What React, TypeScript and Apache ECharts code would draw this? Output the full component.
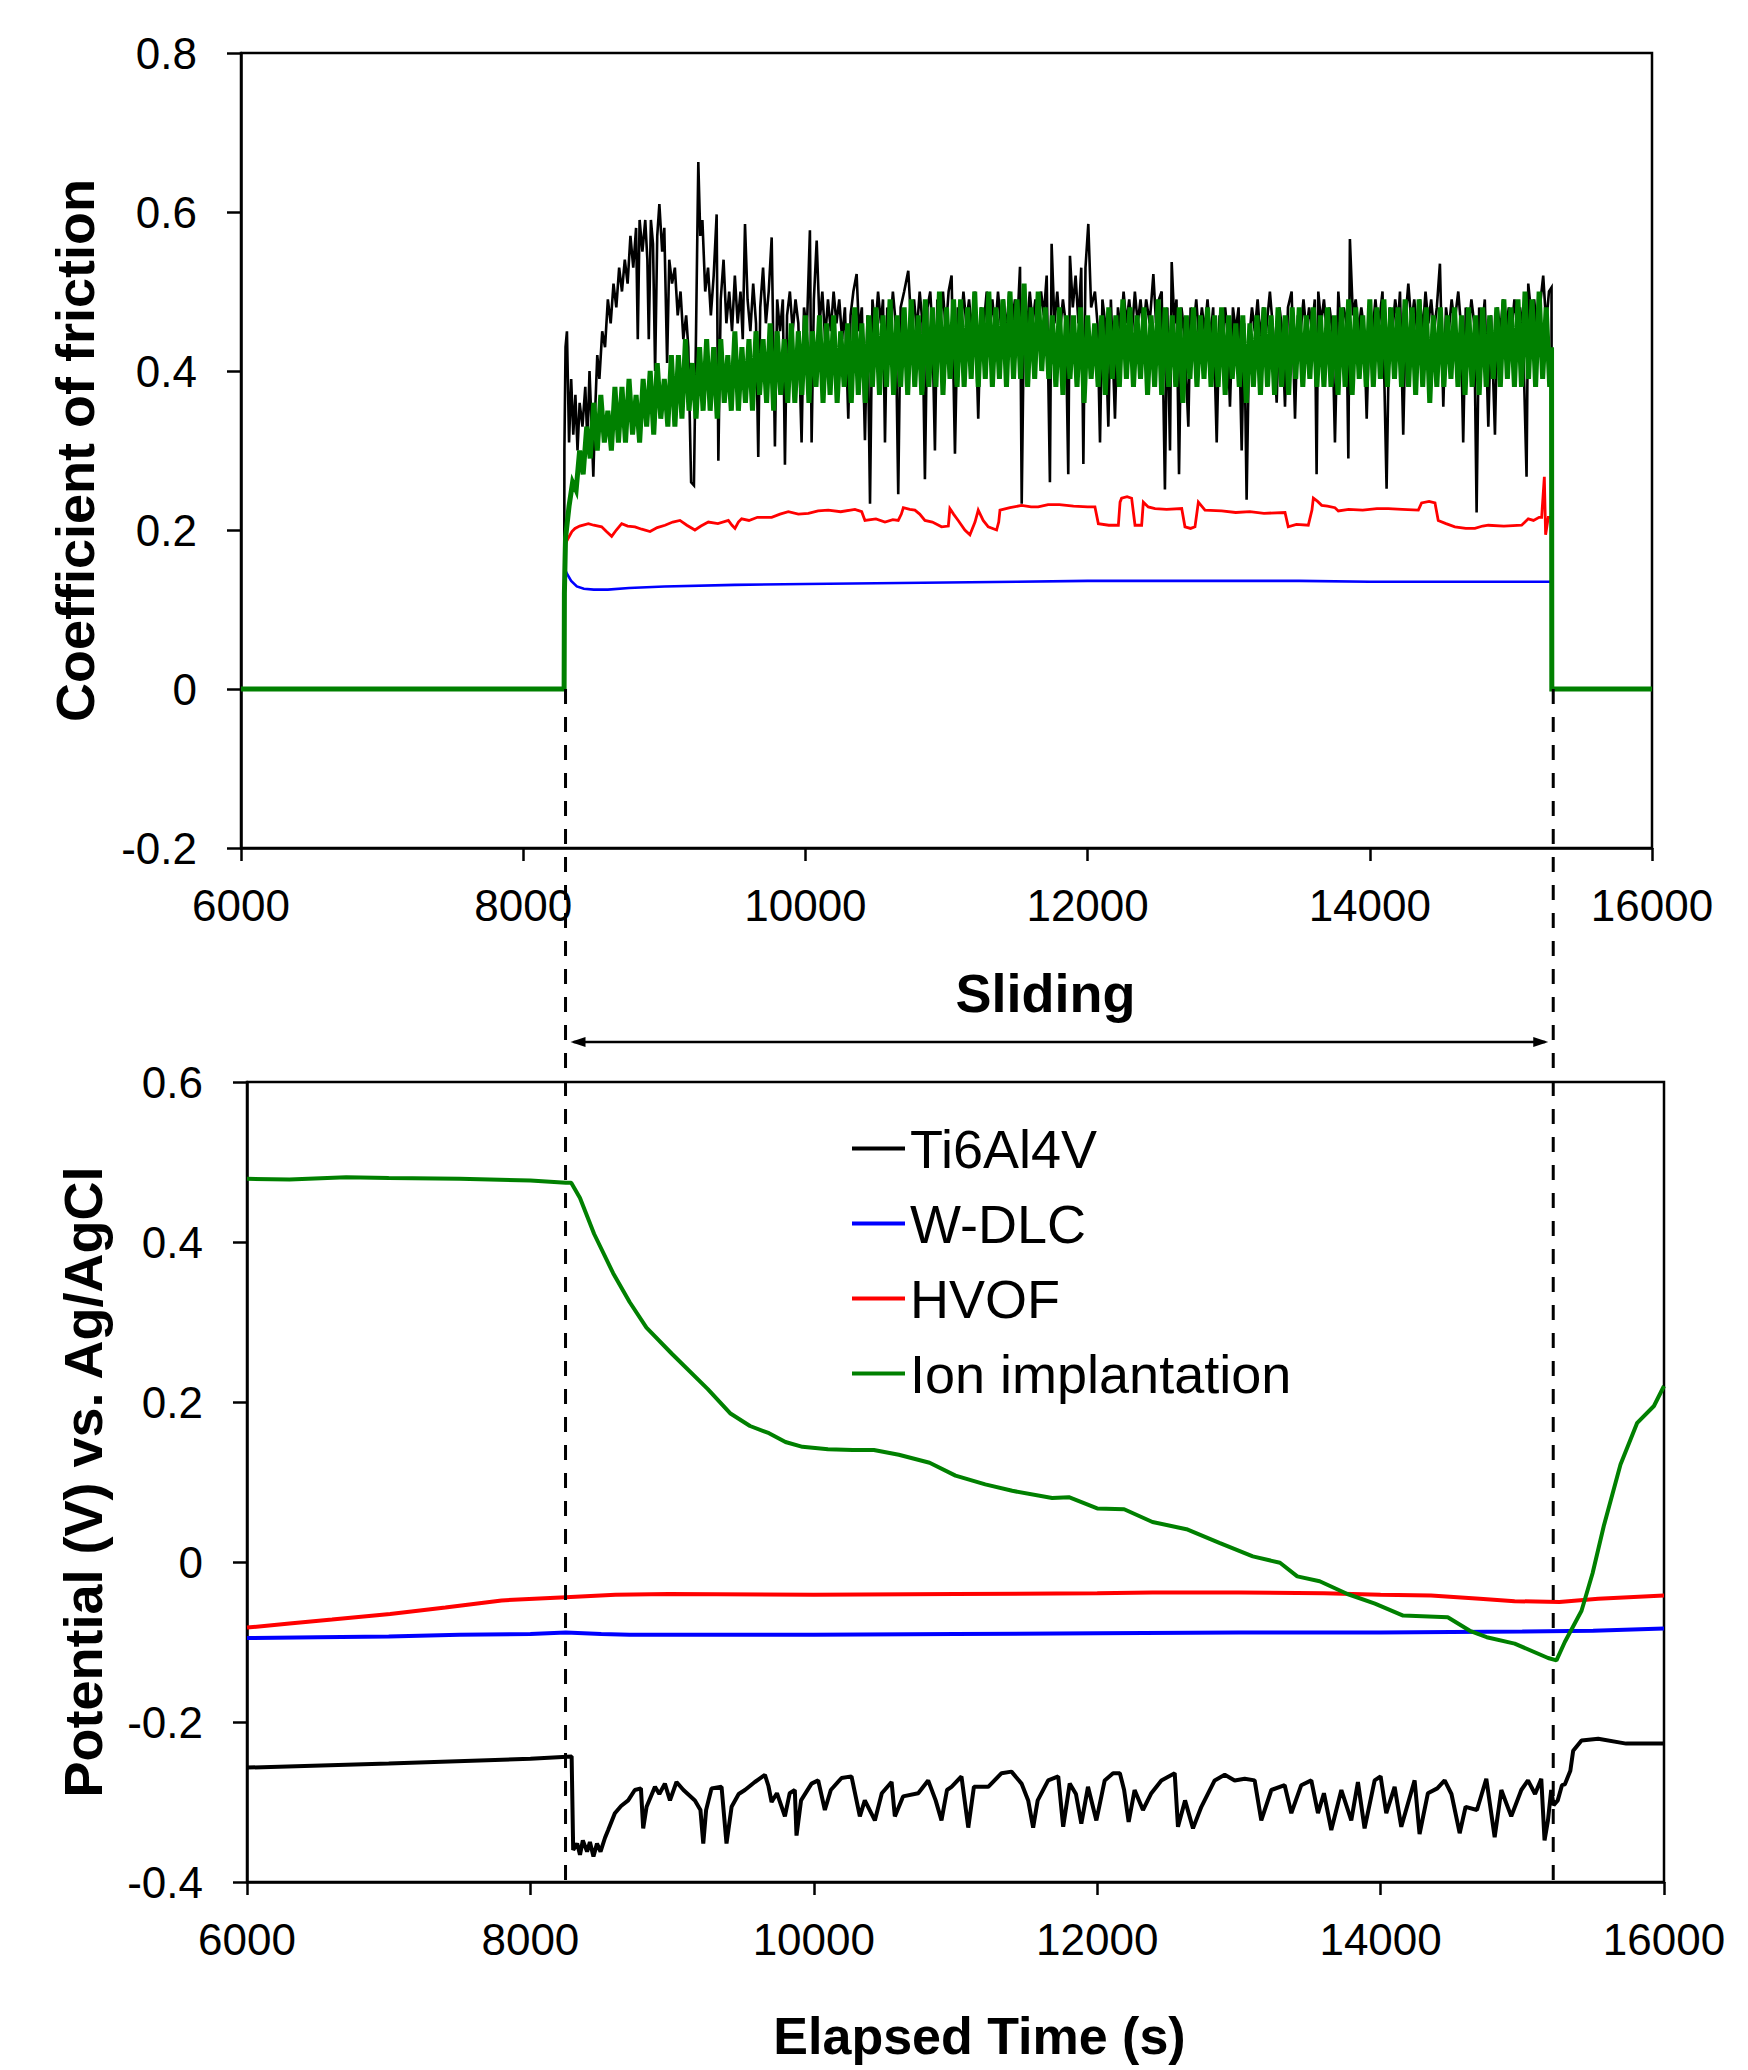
import React, { useEffect, useRef } from "react";
import * as echarts from "echarts";

const FONT = '"Liberation Sans", Arial, Helvetica, sans-serif';

const seriesNames = ["Ti6Al4V", "W-DLC", "HVOF", "Ion implantation"];
const seriesColors = ["#000000", "#0000ff", "#ff0000", "#008000"];

const timeAxisRange = [6000, 16000];
const timeTickStep = 2000;
const cofAxisRange = [-0.2, 0.8];
const potentialAxisRange = [-0.4, 0.6];
const valueTickStep = 0.2;
const slidingBounds = [8300, 15300];

const yTitleTop = "Coefficient of friction";
const yTitleBottom = "Potential (V) vs. Ag/AgCl";
const xTitleBottom = "Elapsed Time (s)";
const slidingLabel = "Sliding";

// ---------- Coefficient of friction (top) ----------
const cofTi6Al4V: [number, number][] = [
  [6000, 0], [8290, 0], [8292, 0.30],
  [8300, 0.43], [8310, 0.45], [8325, 0.31], [8340, 0.39], [8355, 0.32], [8370, 0.37], [8385, 0.30], [8400, 0.36], [8420, 0.33], [8440, 0.38], [8455, 0.31], [8470, 0.40], [8485, 0.33], [8497, 0.267], [8510, 0.35], [8525, 0.42], [8540, 0.39], [8560, 0.45], [8580, 0.43], [8600, 0.49], [8620, 0.46], [8640, 0.51], [8660, 0.48], [8680, 0.53], [8700, 0.50], [8720, 0.54], [8740, 0.51], [8760, 0.57], [8780, 0.53], [8800, 0.58], [8812, 0.44], [8825, 0.59], [8845, 0.55], [8865, 0.59], [8880, 0.54], [8890, 0.44], [8905, 0.59], [8920, 0.56], [8935, 0.40], [8950, 0.57], [8965, 0.61], [8985, 0.55], [9000, 0.58], [9020, 0.41], [9035, 0.54], [9055, 0.51], [9075, 0.53], [9095, 0.47], [9115, 0.50], [9135, 0.44], [9155, 0.47], [9170, 0.43], [9190, 0.26], [9210, 0.256], [9225, 0.45], [9241, 0.663], [9255, 0.57], [9270, 0.59], [9290, 0.50], [9310, 0.53], [9330, 0.47], [9350, 0.52], [9371, 0.597], [9383, 0.287], [9400, 0.49], [9420, 0.54], [9440, 0.46], [9460, 0.50], [9480, 0.45], [9500, 0.52], [9520, 0.46], [9540, 0.50], [9556, 0.44], [9572, 0.585], [9590, 0.49], [9610, 0.45], [9630, 0.51], [9650, 0.46], [9666, 0.292], [9680, 0.48], [9700, 0.53], [9720, 0.46], [9740, 0.50], [9761, 0.568], [9784, 0.305], [9800, 0.49], [9820, 0.45], [9840, 0.49], [9855, 0.282], [9870, 0.47], [9890, 0.50], [9910, 0.45], [9930, 0.49], [9950, 0.46], [9973, 0.31], [9990, 0.48], [10010, 0.45], [10032, 0.577], [10044, 0.31], [10060, 0.49], [10080, 0.564], [10100, 0.46], [10120, 0.50], [10140, 0.44], [10160, 0.49], [10180, 0.45], [10200, 0.50], [10220, 0.46], [10240, 0.49], [10260, 0.44], [10280, 0.48], [10304, 0.34], [10320, 0.47], [10340, 0.50], [10363, 0.522], [10380, 0.45], [10400, 0.48], [10422, 0.313], [10440, 0.47], [10458, 0.233], [10475, 0.49], [10495, 0.45], [10515, 0.50], [10535, 0.46], [10550, 0.49], [10564, 0.31], [10580, 0.48], [10600, 0.45], [10620, 0.50], [10640, 0.46], [10658, 0.245], [10675, 0.48], [10700, 0.50], [10729, 0.526], [10750, 0.46], [10770, 0.49], [10790, 0.45], [10810, 0.50], [10830, 0.46], [10847, 0.264], [10865, 0.48], [10885, 0.50], [10900, 0.45], [10918, 0.30], [10935, 0.49], [10955, 0.46], [10975, 0.50], [10995, 0.45], [11015, 0.50], [11036, 0.52], [11060, 0.296], [11080, 0.48], [11100, 0.45], [11120, 0.50], [11140, 0.46], [11160, 0.49], [11180, 0.45], [11200, 0.50], [11225, 0.34], [11245, 0.48], [11265, 0.46], [11285, 0.50], [11305, 0.45], [11325, 0.49], [11345, 0.45], [11365, 0.50], [11385, 0.46], [11405, 0.49], [11425, 0.45], [11445, 0.50], [11465, 0.46], [11485, 0.49], [11500, 0.45], [11521, 0.531], [11533, 0.233], [11550, 0.48], [11570, 0.45], [11590, 0.50], [11610, 0.46], [11630, 0.49], [11650, 0.45], [11670, 0.50], [11690, 0.47], [11710, 0.52], [11733, 0.26], [11745, 0.56], [11765, 0.46], [11785, 0.50], [11805, 0.45], [11825, 0.49], [11845, 0.46], [11863, 0.27], [11875, 0.545], [11895, 0.48], [11915, 0.52], [11935, 0.46], [11955, 0.53], [11970, 0.283], [11985, 0.53], [12005, 0.585], [12025, 0.48], [12052, 0.50], [12070, 0.46], [12088, 0.31], [12105, 0.49], [12125, 0.46], [12147, 0.33], [12165, 0.49], [12194, 0.34], [12215, 0.48], [12235, 0.45], [12255, 0.50], [12275, 0.46], [12295, 0.49], [12315, 0.45], [12335, 0.50], [12355, 0.46], [12375, 0.49], [12395, 0.45], [12415, 0.49], [12440, 0.46], [12466, 0.522], [12485, 0.46], [12505, 0.49], [12525, 0.50], [12548, 0.251], [12565, 0.48], [12584, 0.30], [12596, 0.537], [12615, 0.46], [12630, 0.49], [12648, 0.27], [12665, 0.48], [12685, 0.45], [12714, 0.33], [12730, 0.48], [12750, 0.45], [12770, 0.49], [12790, 0.44], [12810, 0.48], [12830, 0.45], [12850, 0.49], [12870, 0.44], [12890, 0.48], [12915, 0.31], [12935, 0.47], [12955, 0.44], [12975, 0.48], [12990, 0.45], [13009, 0.355], [13030, 0.48], [13050, 0.45], [13070, 0.48], [13092, 0.30], [13110, 0.46], [13127, 0.238], [13145, 0.44], [13165, 0.48], [13185, 0.45], [13205, 0.49], [13225, 0.44], [13245, 0.48], [13265, 0.45], [13292, 0.50], [13315, 0.45], [13340, 0.36], [13360, 0.48], [13380, 0.45], [13399, 0.355], [13420, 0.48], [13446, 0.50], [13470, 0.34], [13490, 0.47], [13510, 0.45], [13530, 0.49], [13550, 0.45], [13570, 0.48], [13590, 0.45], [13610, 0.49], [13623, 0.27], [13635, 0.50], [13655, 0.46], [13675, 0.49], [13695, 0.45], [13715, 0.48], [13735, 0.45], [13753, 0.31], [13777, 0.50], [13795, 0.45], [13815, 0.48], [13835, 0.46], [13848, 0.29], [13859, 0.566], [13880, 0.47], [13900, 0.49], [13920, 0.45], [13940, 0.48], [13960, 0.45], [13978, 0.34], [14000, 0.48], [14020, 0.45], [14040, 0.49], [14060, 0.45], [14090, 0.50], [14119, 0.252], [14140, 0.48], [14160, 0.45], [14180, 0.49], [14200, 0.46], [14214, 0.50], [14237, 0.32], [14255, 0.47], [14273, 0.51], [14295, 0.46], [14315, 0.49], [14335, 0.45], [14355, 0.49], [14375, 0.45], [14395, 0.50], [14415, 0.46], [14435, 0.49], [14455, 0.45], [14475, 0.48], [14497, 0.535], [14521, 0.355], [14540, 0.48], [14560, 0.45], [14580, 0.49], [14600, 0.46], [14627, 0.50], [14645, 0.46], [14662, 0.31], [14680, 0.48], [14700, 0.45], [14720, 0.49], [14740, 0.46], [14757, 0.222], [14775, 0.48], [14795, 0.45], [14815, 0.49], [14840, 0.33], [14860, 0.47], [14887, 0.32], [14905, 0.48], [14925, 0.45], [14945, 0.49], [14965, 0.45], [14985, 0.48], [15005, 0.45], [15025, 0.49], [15045, 0.46], [15065, 0.48], [15085, 0.45], [15111, 0.267], [15123, 0.51], [15145, 0.47], [15165, 0.49], [15185, 0.45], [15205, 0.48], [15229, 0.52], [15250, 0.46], [15270, 0.50], [15288, 0.505], [15290, 0], [16000, 0],
];

const cofWDLC: [number, number][] = [
  [6000, 0], [8290, 0], [8292, 0.152], [8310, 0.145], [8340, 0.136], [8380, 0.129], [8430, 0.126], [8500, 0.125], [8600, 0.125], [8750, 0.127], [9000, 0.129], [9500, 0.131], [10000, 0.132], [10500, 0.133], [11000, 0.134], [11500, 0.135], [12000, 0.136], [12500, 0.136], [13000, 0.136], [13500, 0.136], [14000, 0.135], [14500, 0.135], [15000, 0.135], [15290, 0.135], [15291, 0], [16000, 0],
];

const cofHVOF: [number, number][] = [
  [6000, 0], [8290, 0], [8292, 0.18], [8320, 0.19], [8345, 0.198], [8367, 0.202], [8400, 0.205], [8462, 0.208], [8500, 0.206], [8556, 0.204], [8590, 0.198], [8627, 0.192], [8660, 0.2], [8698, 0.208], [8740, 0.205], [8792, 0.204], [8840, 0.201], [8899, 0.198], [8950, 0.203], [9005, 0.206], [9060, 0.21], [9111, 0.212], [9160, 0.206], [9217, 0.2], [9260, 0.205], [9312, 0.21], [9380, 0.208], [9454, 0.212], [9480, 0.206], [9501, 0.202], [9525, 0.21], [9548, 0.214], [9600, 0.212], [9660, 0.216], [9761, 0.216], [9820, 0.22], [9879, 0.223], [9950, 0.22], [10021, 0.221], [10090, 0.224], [10162, 0.225], [10250, 0.223], [10351, 0.226], [10399, 0.223], [10422, 0.212], [10500, 0.214], [10564, 0.21], [10620, 0.213], [10658, 0.212], [10680, 0.22], [10694, 0.228], [10740, 0.226], [10776, 0.225], [10810, 0.22], [10847, 0.212], [10900, 0.21], [10965, 0.204], [11013, 0.205], [11024, 0.227], [11050, 0.22], [11083, 0.212], [11130, 0.2], [11166, 0.194], [11202, 0.21], [11225, 0.225], [11260, 0.212], [11296, 0.204], [11355, 0.2], [11370, 0.21], [11379, 0.225], [11450, 0.228], [11532, 0.231], [11600, 0.229], [11650, 0.229], [11720, 0.232], [11800, 0.232], [11900, 0.23], [12000, 0.229], [12052, 0.229], [12076, 0.208], [12150, 0.206], [12218, 0.206], [12230, 0.235], [12241, 0.24], [12280, 0.242], [12312, 0.24], [12336, 0.206], [12383, 0.206], [12395, 0.235], [12430, 0.229], [12478, 0.227], [12560, 0.226], [12667, 0.227], [12690, 0.204], [12730, 0.202], [12761, 0.204], [12785, 0.235], [12832, 0.225], [12950, 0.224], [13050, 0.222], [13150, 0.223], [13250, 0.221], [13399, 0.222], [13422, 0.204], [13480, 0.207], [13564, 0.206], [13590, 0.225], [13600, 0.24], [13630, 0.236], [13659, 0.231], [13700, 0.23], [13753, 0.228], [13777, 0.224], [13850, 0.226], [13950, 0.225], [14050, 0.227], [14131, 0.227], [14230, 0.226], [14344, 0.225], [14367, 0.234], [14420, 0.236], [14462, 0.234], [14485, 0.212], [14540, 0.208], [14603, 0.204], [14680, 0.202], [14745, 0.202], [14800, 0.205], [14840, 0.206], [14950, 0.205], [15076, 0.206], [15100, 0.21], [15123, 0.214], [15160, 0.212], [15200, 0.216], [15218, 0.216], [15237, 0.267], [15246, 0.194], [15265, 0.216], [15288, 0.216], [15290, 0], [16000, 0],
];

const cofIonImplantation: [number, number][] = [
  [6000, 0], [8290, 0], [8292, 0.12],
  [8300, 0.19], [8325, 0.23], [8350, 0.26], [8375, 0.25], [8400, 0.30], [8425, 0.27], [8450, 0.33], [8475, 0.29],
  [8500, 0.36], [8525, 0.30], [8550, 0.37], [8575, 0.31], [8600, 0.35], [8625, 0.30], [8650, 0.38], [8675, 0.31],
  [8700, 0.38], [8725, 0.31], [8750, 0.39], [8775, 0.32], [8800, 0.37], [8825, 0.31], [8850, 0.39], [8875, 0.33],
  [8900, 0.40], [8925, 0.32], [8950, 0.41], [8975, 0.34], [9000, 0.39], [9025, 0.33], [9050, 0.42], [9075, 0.33],
  [9100, 0.42], [9125, 0.34], [9150, 0.44], [9175, 0.35], [9200, 0.41], [9225, 0.34], [9250, 0.43], [9275, 0.35],
  [9300, 0.44], [9325, 0.35], [9350, 0.43], [9375, 0.34], [9400, 0.44], [9425, 0.36], [9450, 0.42], [9475, 0.35],
  [9500, 0.45], [9525, 0.35], [9550, 0.43], [9575, 0.36], [9600, 0.44], [9625, 0.35], [9650, 0.45], [9675, 0.37],
  [9700, 0.44], [9725, 0.36], [9750, 0.46], [9775, 0.35], [9800, 0.45], [9825, 0.37], [9850, 0.44], [9875, 0.36],
  [9900, 0.46], [9925, 0.36], [9950, 0.45], [9975, 0.37], [10000, 0.47], [10025, 0.36], [10050, 0.45], [10075, 0.38],
  [10100, 0.47], [10125, 0.36], [10150, 0.46], [10175, 0.37], [10200, 0.47], [10225, 0.36], [10250, 0.45], [10275, 0.38],
  [10300, 0.46], [10325, 0.36], [10350, 0.48], [10375, 0.37], [10400, 0.46], [10425, 0.36], [10450, 0.47], [10475, 0.38],
  [10500, 0.48], [10525, 0.37], [10550, 0.47], [10575, 0.38], [10600, 0.49], [10625, 0.37], [10650, 0.47], [10675, 0.38],
  [10700, 0.48], [10725, 0.37], [10750, 0.49], [10775, 0.38], [10800, 0.47], [10825, 0.37], [10850, 0.49], [10875, 0.38],
  [10900, 0.48], [10925, 0.38], [10950, 0.50], [10975, 0.37], [11000, 0.48], [11025, 0.39], [11050, 0.49], [11075, 0.38],
  [11100, 0.49], [11125, 0.38], [11150, 0.48], [11175, 0.39], [11200, 0.50], [11225, 0.38], [11250, 0.48], [11275, 0.39],
  [11300, 0.50], [11325, 0.38], [11350, 0.48], [11375, 0.39], [11400, 0.49], [11425, 0.38], [11450, 0.50], [11475, 0.39],
  [11500, 0.49], [11525, 0.39], [11550, 0.51], [11575, 0.38], [11600, 0.48], [11625, 0.39], [11650, 0.50], [11675, 0.40],
  [11700, 0.48], [11725, 0.39], [11750, 0.47], [11775, 0.38], [11800, 0.48], [11825, 0.37], [11850, 0.47], [11875, 0.39],
  [11900, 0.47], [11925, 0.38], [11950, 0.48], [11975, 0.36], [12000, 0.47], [12025, 0.39], [12050, 0.46], [12075, 0.38],
  [12100, 0.47], [12125, 0.37], [12150, 0.48], [12175, 0.39], [12200, 0.47], [12225, 0.38], [12250, 0.49], [12275, 0.39],
  [12300, 0.48], [12325, 0.38], [12350, 0.47], [12375, 0.39], [12400, 0.48], [12425, 0.37], [12450, 0.47], [12475, 0.38],
  [12500, 0.49], [12525, 0.37], [12550, 0.48], [12575, 0.38], [12600, 0.47], [12625, 0.38], [12650, 0.48], [12675, 0.36],
  [12700, 0.47], [12725, 0.39], [12750, 0.48], [12775, 0.38], [12800, 0.47], [12825, 0.39], [12850, 0.48], [12875, 0.38],
  [12900, 0.47], [12925, 0.38], [12950, 0.48], [12975, 0.37], [13000, 0.47], [13025, 0.39], [13050, 0.46], [13075, 0.38],
  [13100, 0.47], [13125, 0.36], [13150, 0.46], [13175, 0.38], [13200, 0.47], [13225, 0.37], [13250, 0.48], [13275, 0.38],
  [13300, 0.47], [13325, 0.37], [13350, 0.48], [13375, 0.38], [13400, 0.47], [13425, 0.37], [13450, 0.48], [13475, 0.39],
  [13500, 0.48], [13525, 0.38], [13550, 0.47], [13575, 0.39], [13600, 0.48], [13625, 0.38], [13650, 0.47], [13675, 0.38],
  [13700, 0.48], [13725, 0.38], [13750, 0.47], [13775, 0.37], [13800, 0.48], [13825, 0.38], [13850, 0.49], [13875, 0.37],
  [13900, 0.48], [13925, 0.39], [13950, 0.47], [13975, 0.38], [14000, 0.49], [14025, 0.38], [14050, 0.48], [14075, 0.39],
  [14100, 0.49], [14125, 0.38], [14150, 0.48], [14175, 0.39], [14200, 0.48], [14225, 0.38], [14250, 0.49], [14275, 0.38],
  [14300, 0.48], [14325, 0.37], [14350, 0.49], [14375, 0.38], [14400, 0.48], [14425, 0.36], [14450, 0.47], [14475, 0.38],
  [14500, 0.48], [14525, 0.38], [14550, 0.47], [14575, 0.39], [14600, 0.48], [14625, 0.38], [14650, 0.47], [14675, 0.37],
  [14700, 0.48], [14725, 0.38], [14750, 0.47], [14775, 0.37], [14800, 0.48], [14825, 0.38], [14850, 0.47], [14875, 0.39],
  [14900, 0.48], [14925, 0.38], [14950, 0.49], [14975, 0.39], [15000, 0.48], [15025, 0.38], [15050, 0.49], [15075, 0.38],
  [15100, 0.50], [15125, 0.39], [15150, 0.49], [15175, 0.38], [15200, 0.50], [15225, 0.39], [15250, 0.48], [15275, 0.38],
  [15288, 0.43], [15290, 0], [16000, 0],
];

// ---------- Potential (bottom) ----------
const potTi6Al4V: [number, number][] = [
  [6000, -0.257], [7000, -0.252], [8000, -0.246], [8291, -0.243], [8302, -0.36], [8330, -0.352], [8350, -0.366], [8370, -0.348], [8400, -0.362], [8420, -0.35], [8445, -0.368], [8470, -0.352], [8495, -0.362], [8526, -0.345], [8549, -0.335], [8596, -0.314], [8640, -0.305], [8690, -0.298], [8737, -0.285], [8780, -0.283], [8796, -0.333], [8820, -0.306], [8879, -0.281], [8910, -0.29], [8949, -0.277], [8985, -0.298], [9031, -0.275], [9080, -0.285], [9161, -0.298], [9200, -0.31], [9220, -0.352], [9240, -0.31], [9278, -0.283], [9349, -0.281], [9384, -0.352], [9420, -0.306], [9470, -0.29], [9514, -0.285], [9584, -0.275], [9655, -0.266], [9680, -0.28], [9702, -0.3], [9740, -0.289], [9796, -0.318], [9830, -0.289], [9866, -0.285], [9878, -0.342], [9910, -0.298], [9984, -0.277], [10031, -0.273], [10078, -0.31], [10120, -0.285], [10196, -0.27], [10266, -0.268], [10325, -0.318], [10360, -0.298], [10431, -0.323], [10480, -0.289], [10549, -0.275], [10572, -0.318], [10630, -0.293], [10737, -0.289], [10807, -0.273], [10860, -0.298], [10901, -0.323], [10940, -0.285], [10972, -0.281], [11042, -0.268], [11090, -0.332], [11130, -0.281], [11231, -0.281], [11325, -0.264], [11395, -0.262], [11466, -0.277], [11513, -0.298], [11548, -0.332], [11580, -0.298], [11654, -0.273], [11725, -0.268], [11760, -0.331], [11806, -0.277], [11850, -0.29], [11888, -0.327], [11935, -0.281], [11994, -0.323], [12053, -0.273], [12112, -0.264], [12160, -0.264], [12190, -0.285], [12222, -0.325], [12264, -0.285], [12323, -0.31], [12382, -0.289], [12453, -0.273], [12547, -0.264], [12570, -0.331], [12620, -0.298], [12676, -0.333], [12735, -0.306], [12829, -0.273], [12900, -0.266], [12970, -0.273], [13041, -0.271], [13111, -0.273], [13158, -0.323], [13229, -0.285], [13323, -0.279], [13370, -0.314], [13440, -0.279], [13511, -0.273], [13558, -0.314], [13600, -0.289], [13652, -0.335], [13723, -0.285], [13793, -0.323], [13840, -0.275], [13887, -0.333], [13958, -0.273], [14000, -0.268], [14040, -0.314], [14099, -0.281], [14146, -0.331], [14240, -0.273], [14275, -0.34], [14334, -0.289], [14400, -0.283], [14452, -0.273], [14500, -0.29], [14558, -0.339], [14600, -0.306], [14680, -0.31], [14746, -0.271], [14805, -0.344], [14852, -0.285], [14922, -0.318], [14993, -0.285], [15040, -0.273], [15090, -0.29], [15134, -0.271], [15157, -0.348], [15181, -0.323], [15204, -0.285], [15221, -0.304], [15250, -0.298], [15280, -0.279], [15300, -0.278], [15339, -0.261], [15359, -0.236], [15418, -0.223], [15536, -0.221], [15733, -0.227], [16000, -0.227],
];

const potWDLC: [number, number][] = [
  [6000, -0.095], [6500, -0.094], [7000, -0.093], [7500, -0.091], [8000, -0.09], [8250, -0.088], [8500, -0.09], [8700, -0.091], [9000, -0.091], [10000, -0.091], [11000, -0.09], [12000, -0.089], [13000, -0.088], [14000, -0.088], [15000, -0.087], [15500, -0.086], [16000, -0.083],
];

const potHVOF: [number, number][] = [
  [6000, -0.082], [6300, -0.077], [6600, -0.072], [7010, -0.065], [7400, -0.057], [7797, -0.048], [8250, -0.044], [8600, -0.041], [8977, -0.04], [10000, -0.041], [11000, -0.04], [12000, -0.039], [12390, -0.038], [13000, -0.038], [13600, -0.039], [14000, -0.041], [14356, -0.042], [14700, -0.046], [14946, -0.049], [15261, -0.05], [15536, -0.046], [16000, -0.042],
];

const potIonImplantation: [number, number][] = [
  [6000, 0.479], [6300, 0.478], [6700, 0.481], [7000, 0.48], [7500, 0.479], [8000, 0.477], [8250, 0.474], [8288, 0.474], [8350, 0.455], [8450, 0.41], [8584, 0.361], [8700, 0.325], [8819, 0.293], [9000, 0.26], [9252, 0.216], [9409, 0.186], [9550, 0.17], [9684, 0.161], [9800, 0.15], [9920, 0.144], [10100, 0.141], [10274, 0.14], [10424, 0.14], [10600, 0.134], [10817, 0.124], [11000, 0.108], [11210, 0.097], [11400, 0.089], [11682, 0.08], [11800, 0.081], [12000, 0.067], [12190, 0.066], [12390, 0.05], [12630, 0.041], [12862, 0.024], [13098, 0.007], [13290, -0.001], [13412, -0.018], [13570, -0.024], [13766, -0.04], [13960, -0.052], [14159, -0.067], [14474, -0.069], [14630, -0.086], [14749, -0.094], [14946, -0.102], [15182, -0.12], [15241, -0.123], [15300, -0.1], [15418, -0.061], [15496, -0.014], [15575, 0.045], [15693, 0.122], [15811, 0.174], [15929, 0.195], [16000, 0.22],
];

const cofData = [cofTi6Al4V, cofWDLC, cofHVOF, cofIonImplantation];
const potData = [potTi6Al4V, potWDLC, potHVOF, potIonImplantation];
const cofLineWidths = [2.6, 2.6, 2.8, 5];
const potLineWidths = [4, 4, 4, 4];

const W = 1748;
const H = 2070;

function fmtY(v: number) {
  const r = Math.round(v * 10) / 10;
  return r === 0 ? "0" : String(r);
}

function makeXAxis(gridIndex: number, extra: any = {}) {
  return {
    type: "value",
    gridIndex,
    min: timeAxisRange[0],
    max: timeAxisRange[1],
    interval: timeTickStep,
    axisLine: { show: true, onZero: false, lineStyle: { color: "#000", width: 2.5 } },
    axisTick: { show: true, inside: false, length: 13, lineStyle: { color: "#000", width: 2.5 } },
    axisLabel: { fontSize: 44, color: "#000", margin: 35, fontFamily: FONT, formatter: (v: number) => String(v) },
    splitLine: { show: false },
    ...extra,
  };
}

function makeYAxis(gridIndex: number, range: number[], name: string, nameGap: number) {
  return {
    type: "value",
    gridIndex,
    min: range[0],
    max: range[1],
    interval: valueTickStep,
    name,
    nameLocation: "middle",
    nameGap,
    nameRotate: 90,
    nameTextStyle: { fontSize: 54, fontWeight: "bold", color: "#000", fontFamily: FONT },
    axisLine: { show: true, onZero: false, lineStyle: { color: "#000", width: 2.5 } },
    axisTick: { show: true, inside: false, length: 14, lineStyle: { color: "#000", width: 2.5 } },
    axisLabel: { fontSize: 44, color: "#000", margin: 44, fontFamily: FONT, formatter: fmtY },
    splitLine: { show: false },
  };
}

export default function App() {
  const ref = useRef<HTMLDivElement>(null);

  useEffect(() => {
    document.body.style.margin = "0";
    const chart = echarts.init(ref.current!, null, { renderer: "svg", width: W, height: H });

    const series: any[] = [];
    seriesNames.forEach((name, i) => {
      series.push({
        name,
        type: "line",
        xAxisIndex: 1,
        yAxisIndex: 1,
        data: potData[i],
        symbol: "none",
        showSymbol: false,
        lineStyle: { color: seriesColors[i], width: potLineWidths[i] },
        itemStyle: { color: seriesColors[i] },
        z: 2 + i,
        silent: true,
      });
    });
    seriesNames.forEach((name, i) => {
      series.push({
        name,
        type: "line",
        xAxisIndex: 0,
        yAxisIndex: 0,
        data: cofData[i],
        symbol: "none",
        showSymbol: false,
        lineStyle: { color: seriesColors[i], width: cofLineWidths[i], join: "miter" },
        itemStyle: { color: seriesColors[i] },
        z: 2 + i,
        silent: true,
      });
    });

    const option: any = {
      animation: false,
      backgroundColor: "#ffffff",
      textStyle: { fontFamily: FONT },
      grid: [
        { left: 241, top: 53, width: 1411, height: 795, show: true, borderColor: "#000", borderWidth: 2.5, backgroundColor: "transparent" },
        { left: 247, top: 1082, width: 1417, height: 800, show: true, borderColor: "#000", borderWidth: 2.5, backgroundColor: "transparent" },
      ],
      xAxis: [
        makeXAxis(0),
        makeXAxis(1, {
          name: xTitleBottom,
          nameLocation: "middle",
          nameGap: 128,
          nameTextStyle: { fontSize: 52, fontWeight: "bold", color: "#000", fontFamily: FONT, padding: [0, 0, 0, 48] },
        }),
      ],
      yAxis: [
        makeYAxis(0, cofAxisRange, yTitleTop, 139),
        makeYAxis(1, potentialAxisRange, yTitleBottom, 137),
      ],
      legend: {
        show: true,
        orient: "vertical",
        left: 847,
        top: 1116,
        padding: 5,
        icon: "rect",
        itemWidth: 53,
        itemHeight: 4,
        itemGap: 20,
        selectedMode: false,
        data: seriesNames,
        textStyle: { fontSize: 54, color: "#000", fontFamily: FONT, lineHeight: 55 },
      },
      series,
    };

    chart.setOption(option);

    const pTopStart = chart.convertToPixel({ gridIndex: 0 } as any, [slidingBounds[0], 0]) as number[];
    const pTopEnd = chart.convertToPixel({ gridIndex: 0 } as any, [slidingBounds[1], 0]) as number[];
    const pBottom = chart.convertToPixel({ gridIndex: 1 } as any, [timeAxisRange[0], potentialAxisRange[0]]) as number[];
    const xs = pTopStart[0];
    const xe = pTopEnd[0];
    const yTop = pTopStart[1];
    const yBot = pBottom[1] + 10;
    const arrowY = 1042;
    const headL = 15;
    const headH = 5;

    chart.setOption({
      graphic: [
        {
          type: "line",
          z: 100,
          shape: { x1: xs, y1: yTop, x2: xs, y2: yBot },
          style: { stroke: "#000", lineWidth: 3, lineDash: [15, 13] },
        },
        {
          type: "line",
          z: 100,
          shape: { x1: xe, y1: yTop, x2: xe, y2: yBot },
          style: { stroke: "#000", lineWidth: 3, lineDash: [15, 13] },
        },
        {
          type: "line",
          z: 100,
          shape: { x1: xs + 8, y1: arrowY, x2: xe - 8, y2: arrowY },
          style: { stroke: "#000", lineWidth: 2.5 },
        },
        {
          type: "polygon",
          z: 100,
          shape: { points: [[xs + 5, arrowY], [xs + 5 + headL, arrowY - headH], [xs + 5 + headL, arrowY + headH]] },
          style: { fill: "#000" },
        },
        {
          type: "polygon",
          z: 100,
          shape: { points: [[xe - 5, arrowY], [xe - 5 - headL, arrowY - headH], [xe - 5 - headL, arrowY + headH]] },
          style: { fill: "#000" },
        },
        {
          type: "text",
          z: 100,
          x: (xs + xe) / 2 - 14,
          y: 993,
          style: {
            text: slidingLabel,
            fill: "#000",
            font: `bold 54px ${FONT}`,
            textAlign: "center",
            textVerticalAlign: "middle",
            align: "center",
            verticalAlign: "middle",
          },
        },
      ],
    });

    return () => {
      chart.dispose();
    };
  }, []);

  return (
    <div
      ref={ref}
      style={{ position: "absolute", left: 0, top: 0, width: W, height: H, background: "#fff" }}
    />
  );
}
